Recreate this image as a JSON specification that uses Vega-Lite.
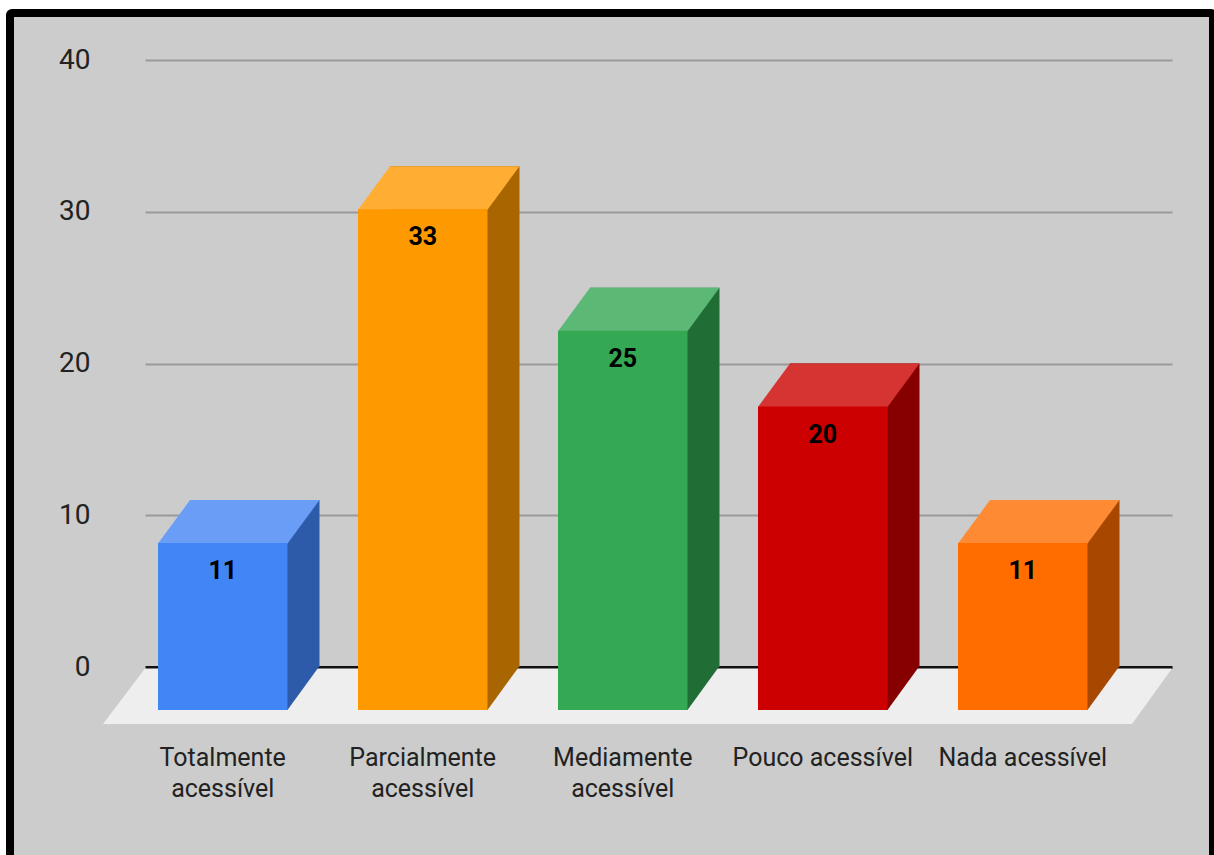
{
  "$schema": "https://vega.github.io/schema/vega-lite/v6.json",
  "width": 1203,
  "height": 847,
  "autosize": {"type": "none"},
  "padding": {"left": 10, "top": 13, "right": 1, "bottom": -5},
  "background": "white",
  "config": {
    "view": {"fill": "#cccccc", "stroke": "black", "strokeWidth": 8, "cornerRadius": 2}
  },
  "data": {
    "values": [
      {"categoria": "Totalmente acessível", "valor": 11},
      {"categoria": "Parcialmente acessível", "valor": 33},
      {"categoria": "Mediamente acessível", "valor": 25},
      {"categoria": "Pouco acessível", "valor": 20},
      {"categoria": "Nada acessível", "valor": 11}
    ]
  },
  "encoding": {
    "x": {
      "field": "categoria",
      "type": "nominal",
      "sort": null,
      "scale": {"domain": ["Totalmente acessível", "Parcialmente acessível", "Mediamente acessível", "Pouco acessível", "Nada acessível"], "range": [135, 1162], "paddingInner": 0.3525, "paddingOuter": 0.24375, "align": 0.4615},
      "axis": {
        "title": null,
        "domain": false,
        "ticks": false,
        "grid": false,
        "labelAngle": 0,
        "labelFont": "Roboto",
        "labelFontSize": 25,
        "labelColor": "#222222",
        "labelPadding": 0,
        "offset": -115,
        "labelOffset": -32,
        "labelBaseline": "top",
        "labelLineHeight": 31,
        "labelLimit": 0,
        "labelExpr": "indexof(datum.label, 'Pouco') == 0 || indexof(datum.label, 'Nada') == 0 ? datum.label : split(datum.label, ' ')"
      }
    },
    "y": {
      "field": "valor",
      "type": "quantitative",
      "scale": {"domain": [0, 40], "range": [654, 47], "nice": false, "zero": true},
      "axis": {
        "title": null,
        "values": [0, 10, 20, 30, 40],
        "domain": false,
        "ticks": false,
        "labelFont": "Roboto",
        "labelFontSize": 28,
        "labelColor": "#222222",
        "labelPadding": 0,
        "offset": -80,
        "gridColor": {"condition": {"test": "datum.value === 0", "value": "#111111"}, "value": "#9a9a9a"},
        "gridWidth": {"condition": {"test": "datum.value === 0", "value": 3}, "value": 2}
      }
    }
  },
  "layer": [
    {
      "transform": [{"filter": "datum.categoria == 'Mediamente acessível'"}],
      "mark": {"type": "point", "shape": "M-509.75,1.5L517.25,1.5L477.25,57L-551.75,57Z", "size": 4, "filled": true, "fill": "#eeeeee", "opacity": 1, "strokeWidth": 0},
      "encoding": {"y": {"datum": 0}}
    },
    {
      "mark": {"type": "bar"},
      "encoding": {
        "color": {
          "field": "categoria", "type": "nominal", "legend": null,
          "scale": {"domain": ["Totalmente acessível", "Parcialmente acessível", "Mediamente acessível", "Pouco acessível", "Nada acessível"],
                    "range": ["#2e5ba9", "#a86500", "#206d36", "#870000", "#a84700"]}
        }
      }
    },
    {
      "mark": {"type": "point", "shape": "M29,-1L29,43L32.75,43L64.75,-1Z", "size": 4, "filled": true, "opacity": 1, "strokeWidth": 0},
      "encoding": {
        "y": {"datum": 0},
        "color": {
          "field": "categoria", "type": "nominal", "legend": null,
          "scale": {"domain": ["Totalmente acessível", "Parcialmente acessível", "Mediamente acessível", "Pouco acessível", "Nada acessível"],
                    "range": ["#2e5ba9", "#a86500", "#206d36", "#870000", "#a84700"]}
        }
      }
    },
    {
      "mark": {"type": "point", "shape": "M-96.75,43.5L32.75,43.5L64.75,0L-64.75,0Z", "size": 4, "filled": true, "opacity": 1, "strokeWidth": 0},
      "encoding": {
        "color": {
          "field": "categoria", "type": "nominal", "legend": null,
          "scale": {"domain": ["Totalmente acessível", "Parcialmente acessível", "Mediamente acessível", "Pouco acessível", "Nada acessível"],
                    "range": ["#6a9ef6", "#ffad33", "#5cb975", "#d63333", "#ff8a34"]}
        }
      }
    },
    {
      "mark": {"type": "bar", "xOffset": -32, "x2Offset": -32, "yOffset": 43, "y2Offset": 43},
      "encoding": {
        "color": {
          "field": "categoria", "type": "nominal", "legend": null,
          "scale": {"domain": ["Totalmente acessível", "Parcialmente acessível", "Mediamente acessível", "Pouco acessível", "Nada acessível"],
                    "range": ["#4285f4", "#ff9900", "#34a853", "#cc0000", "#ff6d01"]}
        }
      }
    },
    {
      "mark": {"type": "text", "xOffset": -32, "yOffset": 71, "baseline": "middle", "align": "center", "font": "Roboto", "fontWeight": "bold", "fontSize": 25, "color": "#000000"},
      "encoding": {"text": {"field": "valor", "type": "quantitative"}}
    }
  ],
  "resolve": {"scale": {"color": "independent"}}
}
